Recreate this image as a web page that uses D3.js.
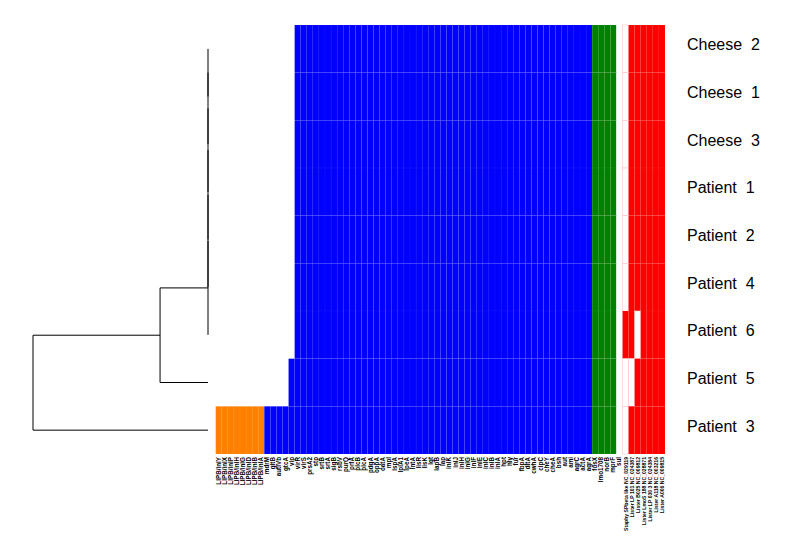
<!DOCTYPE html>
<html>
<head>
<meta charset="utf-8">
<script src="https://cdn.jsdelivr.net/npm/d3@7"></script>
<style>
  body { margin: 0; background: #fff; }
  svg { display: block; }
  .rowlab { font-family: "Liberation Sans", Arial, sans-serif; font-size: 16px; white-space: pre; }
  .collab { font-family: "Liberation Sans", Arial, sans-serif; font-size: 6.3px; font-weight: bold; }
  .collab.phage { font-size: 5.1px; }
</style>
</head>
<body>
<script>
// samples, top to bottom
var samples = ["Cheese  2", "Cheese  1", "Cheese  3", "Patient  1", "Patient  2",
               "Patient  4", "Patient  6", "Patient  5", "Patient  3"];

// column groups
var inlGenes = ["LIPB/inlY", "LIPB/inlX", "LIPB/inlP", "LIPB/inlH", "LIPB/inlG",
                "LIPB/inlD", "LIPB/inlB", "LIPB/inlA"];
var virGenes = ["mdrM", "gltB", "autIVb", "gtcA", "vip", "virR", "virS", "prsA2", "stp",
                "srtB", "srtA", "sigB", "rsbV", "purQ", "prfA", "plcB", "plcA", "pdgA",
                "oppA", "oatA", "mpl", "lspA", "lplA1", "lpeA", "lntA", "lisR", "lisK",
                "lgt", "lapB", "lap", "inlK", "inlJ", "inlH", "inlG", "inlF", "inlE",
                "inlC", "inlB", "inlA", "hpt", "hly", "fur", "fbpA", "dltA", "cwhA",
                "clpC", "cheY", "cheA", "bsh", "aut", "ami", "agrC", "actA", "agrA"];
var resGenes = ["fosX", "lmo1708", "norB", "mprF", "sul"];
var phageHits = ["Staphy SPbeta like NC_029119", "Lister LP 101 NC_024387",
                 "Lister B025 NC_009812", "Lister LmoS 188 NC_028871",
                 "Lister LP 030 3 NC_024384", "Lister A118 NC_003216",
                 "Lister A006 NC_009815"];

// presence (1) / absence (0), one string per sample, same order as samples
var inlPresence = ["00000000", "00000000", "00000000", "00000000", "00000000",
                   "00000000", "00000000", "00000000", "11111111"];
var virPresence = [
  "000001111111111111111111111111111111111111111111111111",
  "000001111111111111111111111111111111111111111111111111",
  "000001111111111111111111111111111111111111111111111111",
  "000001111111111111111111111111111111111111111111111111",
  "000001111111111111111111111111111111111111111111111111",
  "000001111111111111111111111111111111111111111111111111",
  "000001111111111111111111111111111111111111111111111111",
  "000011111111111111111111111111111111111111111111111111",
  "111111111111111111111111111111111111111111111111111111"];
var resPresence = ["11110", "11110", "11110", "11110", "11110",
                   "11110", "11110", "11110", "11110"];
var phagePresence = ["0111111", "0111111", "0111111", "0111111", "0111111",
                     "0111111", "1101111", "0011111", "0111111"];

var groupColors = ["#ff8000", "#0000ff", "#008000", "#ff0000"];

// dendrogram merge heights
var mergeHeights = [0, 0.274, 1];

var width = 788, height = 545;

var svg = d3.select("body").append("svg")
    .attr("width", width)
    .attr("height", height);

var groups = [
  {genes: inlGenes, pres: inlPresence, color: groupColors[0]},
  {genes: virGenes, pres: virPresence, color: groupColors[1]},
  {genes: resGenes, pres: resPresence, color: groupColors[2]},
  {genes: phageHits, pres: phagePresence, color: groupColors[3]}
];

var columns = [];
groups.forEach(function(g, gi){
  g.genes.forEach(function(name, ci){
    columns.push({key: gi + ":" + name, name: name, group: gi, ci: ci});
  });
});

var x = d3.scaleBand()
    .domain(columns.map(function(c){ return c.key; }))
    .range([215.7, 665]);

var y = d3.scaleBand()
    .domain(samples)
    .range([25, 454]);

// cells
var cells = [];
samples.forEach(function(s, ri){
  columns.forEach(function(c){
    var v = +groups[c.group].pres[ri][c.ci];
    cells.push({sample: s, col: c, v: v});
  });
});

svg.append("g").selectAll("rect")
  .data(cells)
  .enter()
  .append("rect")
  .attr("x", function(d){ return x(d.col.key); })
  .attr("y", function(d){ return y(d.sample); })
  .attr("width", x.bandwidth())
  .attr("height", y.bandwidth())
  .attr("fill", function(d){ return d.v ? groups[d.col.group].color : "#ffffff"; })
  .attr("stroke", function(d){
    if (d.v) return "rgba(255,255,255,0.06)";
    return d.col.group == 3 ? "#ffc4c4" : "none";
  })
  .attr("stroke-width", 0.6);

// column labels
svg.append("g").selectAll("text")
  .data(columns)
  .enter()
  .append("text")
  .attr("class", function(d){ return d.group == 3 ? "collab phage" : "collab"; })
  .attr("transform", function(d){
    return "translate(" + (x(d.key) + x.bandwidth() / 2 + 2) + ",457) rotate(-90)";
  })
  .attr("text-anchor", "end")
  .text(function(d){ return d.name; });

// row labels
svg.append("g").selectAll("text")
  .data(samples)
  .enter()
  .append("text")
  .attr("class", "rowlab")
  .attr("x", 687)
  .attr("y", function(d){ return y(d) + y.bandwidth() / 2; })
  .attr("dy", "0.1em")
  .text(function(d){ return d; });

// dendrogram: ((((((((C2,C1),C3),P1),P2),P4),P6),P5),P3)
function leaf(name){ return {name: name}; }
function node(h, a, b){ return {h: h, children: [a, b]}; }
var top7 = leaf(samples[0]);
for (var i = 1; i < 7; i++) top7 = node(mergeHeights[0], top7, leaf(samples[i]));
var tree = node(mergeHeights[2], node(mergeHeights[1], top7, leaf(samples[7])), leaf(samples[8]));

var root = d3.hierarchy(tree);
var hx = d3.scaleLinear().domain([0, 1]).range([208, 33]);

root.eachAfter(function(n){
  if (n.children) {
    n.py = d3.mean(n.children, function(c){ return c.py; });
    n.px = hx(n.data.h);
  } else {
    n.py = y(n.data.name) + y.bandwidth() / 2;
    n.px = hx(0);
  }
});

var segs = [];
root.each(function(n){
  if (!n.children) return;
  var a = n.children[0], b = n.children[1];
  segs.push([n.px, a.py, n.px, b.py]);
  if (a.px != n.px) segs.push([n.px, a.py, a.px, a.py]);
  if (b.px != n.px) segs.push([n.px, b.py, b.px, b.py]);
});

svg.append("g").selectAll("line")
  .data(segs)
  .enter()
  .append("line")
  .attr("x1", function(d){ return d[0]; })
  .attr("y1", function(d){ return d[1]; })
  .attr("x2", function(d){ return d[2]; })
  .attr("y2", function(d){ return d[3]; })
  .attr("stroke", "#000")
  .attr("stroke-width", 1);
</script>
</body>
</html>
